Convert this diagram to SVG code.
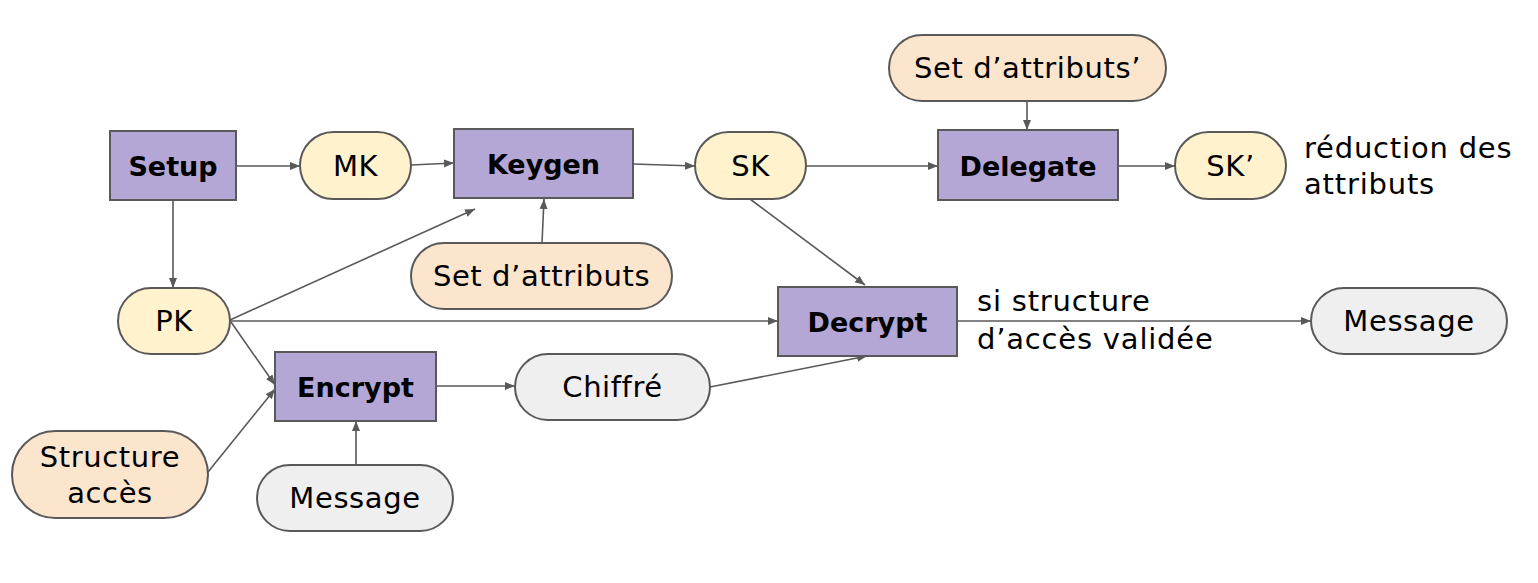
<svg xmlns="http://www.w3.org/2000/svg" width="1538" height="583" viewBox="0 0 1538 583">
<defs>
<marker id="ah" viewBox="0 0 10 10" refX="10" refY="5" markerWidth="10" markerHeight="10" markerUnits="userSpaceOnUse" orient="auto">
<path d="M0,1 L10,5 L0,9 Z" fill="#595959"/>
</marker>
<style>
.box{fill:#b4a7d6;stroke:#595959;stroke-width:2}
.y{fill:#fff2cc;stroke:#595959;stroke-width:2}
.o{fill:#fce5cd;stroke:#595959;stroke-width:2}
.g{fill:#efefef;stroke:#595959;stroke-width:2}
.b{font-family:"DejaVu Sans",sans-serif;font-weight:bold;font-size:27px;fill:#000;text-anchor:middle;dominant-baseline:central}
.t{font-family:"DejaVu Sans",sans-serif;font-size:29px;letter-spacing:0.6px;fill:#000;text-anchor:middle;dominant-baseline:central}
.l{font-family:"DejaVu Sans",sans-serif;font-size:29px;letter-spacing:0.8px;fill:#000}
.c line{stroke:#595959;stroke-width:1.6;marker-end:url(#ah)}
</style>
</defs>
<g class="c" id="connectors">
<line x1="236" y1="166" x2="300" y2="166"/>
<line x1="411" y1="165" x2="454" y2="163"/>
<line x1="633" y1="164" x2="695" y2="166"/>
<line x1="806" y1="166" x2="938" y2="166"/>
<line x1="1118" y1="166" x2="1175" y2="166"/>
<line x1="1027" y1="101" x2="1027" y2="130"/>
<line x1="173" y1="200" x2="173" y2="288"/>
<line x1="230" y1="320" x2="475" y2="209"/>
<line x1="542" y1="243" x2="544" y2="199"/>
<line x1="230" y1="321" x2="778" y2="321"/>
<line x1="231" y1="322" x2="275" y2="385"/>
<line x1="208" y1="472" x2="275" y2="389"/>
<line x1="356" y1="465" x2="356" y2="421"/>
<line x1="436" y1="386" x2="515" y2="386"/>
<line x1="710" y1="387" x2="867" y2="356"/>
<line x1="750" y1="199" x2="865" y2="285"/>
<line x1="957" y1="321" x2="1311" y2="321"/>
</g>
<g id="setup"><rect class="box" x="110" y="131" width="126" height="69"/><text class="b" x="173" y="166">Setup</text></g>
<g id="mk"><rect class="y" x="300" y="132" width="111" height="67" rx="33.5"/><text class="t" x="355.5" y="166">MK</text></g>
<g id="keygen"><rect class="box" x="454" y="129" width="179" height="69"/><text class="b" x="543.5" y="164">Keygen</text></g>
<g id="sk"><rect class="y" x="695" y="132" width="111" height="67" rx="33.5"/><text class="t" x="750.5" y="166">SK</text></g>
<g id="delegate"><rect class="box" x="938" y="130" width="180" height="70"/><text class="b" x="1028" y="166">Delegate</text></g>
<g id="skp"><rect class="y" x="1175" y="132" width="111" height="67" rx="33.5"/><text class="t" x="1230.5" y="166">SK’</text></g>
<g id="reduction"><text class="l" x="1304" y="158">réduction des</text><text class="l" x="1304" y="194">attributs</text></g>
<g id="setattrp"><rect class="o" x="889" y="35" width="277" height="66" rx="33"/><text class="t" x="1027.5" y="68">Set d’attributs’</text></g>
<g id="setattr"><rect class="o" x="411" y="243" width="261" height="66" rx="33"/><text class="t" x="541.5" y="276">Set d’attributs</text></g>
<g id="pk"><rect class="y" x="118" y="288" width="112" height="66" rx="33"/><text class="t" x="174" y="321">PK</text></g>
<g id="decrypt"><rect class="box" x="778" y="287" width="179" height="69"/><text class="b" x="867.5" y="322">Decrypt</text></g>
<g id="sistruct"><text class="l" x="977" y="311">si structure</text><text class="l" x="977" y="349">d’accès validée</text></g>
<g id="message2"><rect class="g" x="1311" y="288" width="196" height="66" rx="33"/><text class="t" x="1409" y="321">Message</text></g>
<g id="encrypt"><rect class="box" x="275" y="352" width="161" height="69"/><text class="b" x="355.5" y="387">Encrypt</text></g>
<g id="chiffre"><rect class="g" x="515" y="354" width="195" height="66" rx="33"/><text class="t" x="612.5" y="387">Chiffré</text></g>
<g id="structure"><rect class="o" x="12" y="431" width="196" height="87" rx="43.5"/><text class="t" x="110" y="457">Structure</text><text class="t" x="110" y="493">accès</text></g>
<g id="message1"><rect class="g" x="257" y="465" width="196" height="66" rx="33"/><text class="t" x="355" y="498">Message</text></g>
</svg>
